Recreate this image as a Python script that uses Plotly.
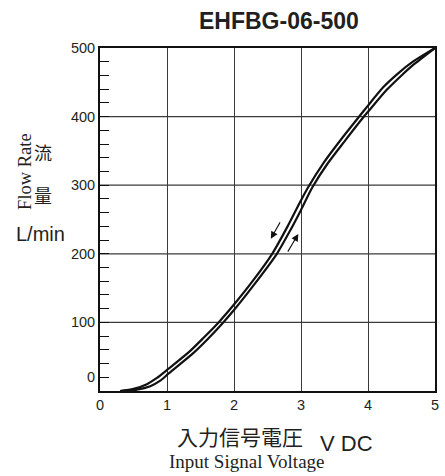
import plotly.graph_objects as go

# Hysteresis curves of flow rate versus input signal voltage
# Decreasing-signal branch (upper/left curve)
volt_down = [0.30, 0.50, 0.70, 0.85, 1.03, 1.33, 1.55, 1.77, 2.00, 2.30, 2.57,
             2.80, 3.00, 3.10, 3.34, 3.60, 3.86, 4.00, 4.23, 4.45, 4.67, 5.00]
flow_down = [0, 3, 10, 19, 33, 57, 78, 100, 126, 163, 200,
             240, 278, 296, 333, 367, 399, 416, 443, 463, 480, 500]

# Increasing-signal branch (lower/right curve)
volt_up = [0.30, 0.55, 0.75, 0.90, 1.03, 1.40, 1.62, 1.84, 2.00, 2.30, 2.64,
           2.85, 3.00, 3.17, 3.40, 3.65, 3.93, 4.00, 4.28, 4.50, 4.67, 5.00]
flow_up = [0, 2, 7, 15, 26, 56, 77, 100, 118, 155, 200,
           236, 264, 297, 332, 364, 399, 407, 439, 460, 475, 500]

# Axis ticks
x_tick_vals = [0, 1, 2, 3, 4, 5]
x_tick_text = ["0", "1", "2", "3", "4", "5"]
y_tick_vals = [20, 100, 200, 300, 400, 500]
y_tick_text = ["0", "100", "200", "300", "400", "500"]
y_minor_vals = list(range(20, 500, 20))
y_grid_vals = [100, 200, 300, 400]

# Direction arrows: (tail_x, tail_y, head_x, head_y)
arrow_down = (2.70, 248, 2.55, 222)
arrow_up = (2.79, 201, 2.96, 229)

SANS = "Liberation Sans, Arial, sans-serif"
SERIF = "Liberation Serif, Times New Roman, serif"
CJK = "Noto Sans CJK JP, sans-serif"
INK = "#231f20"

fig = go.Figure()
for xs, ys in ((volt_down, flow_down), (volt_up, flow_up)):
    fig.add_trace(go.Scatter(
        x=xs, y=ys, mode="lines",
        line=dict(color="#111111", width=2.2, shape="spline", smoothing=0.7),
        hoverinfo="skip", showlegend=False,
    ))

for gy in y_grid_vals:
    fig.add_shape(type="line", xref="paper", yref="y", x0=0, x1=1, y0=gy, y1=gy,
                  line=dict(color="#3a3a3a", width=1.3), layer="below")

for tx, ty, hx, hy in (arrow_down, arrow_up):
    fig.add_annotation(x=hx, y=hy, ax=tx, ay=ty, xref="x", yref="y",
                       axref="x", ayref="y", text="", showarrow=True,
                       arrowhead=2, arrowsize=1.3, arrowwidth=1.1,
                       arrowcolor="#111111")

W, H = 445, 476
L, R, T, B = 100, 6, 48, 85
pw, ph = W - L - R, H - T - B


def px(xp):
    return (xp - L) / pw


def py(yp):
    return (H - B - yp) / ph


labels = [
    ("<b>EHFBG-06-500</b>", 281, 21, dict(family=SANS, size=23, color=INK), 0),
    ("Flow Rate", 24, 171, dict(family=SERIF, size=18.5, color=INK), -90),
    ("流", 42, 152, dict(family=CJK, size=18, color=INK), 0),
    ("量", 42, 195, dict(family=CJK, size=18, color=INK), 0),
    ("L/min", 40, 234, dict(family=SANS, size=20, color=INK), 0),
    ("入力信号電圧", 242, 436, dict(family=CJK, size=21, color=INK), 0),
    ("Input Signal Voltage", 249, 461, dict(family=SERIF, size=19, color=INK), 0),
    ("V DC", 349, 443, dict(family=SANS, size=22, color=INK), 0),
]
for text, xp, yp, font, ang in labels:
    fig.add_annotation(x=px(xp), y=py(yp), xref="paper", yref="paper", text=text,
                       showarrow=False, font=font, textangle=ang,
                       xanchor="center", yanchor="middle")

fig.update_layout(
    width=W, height=H,
    margin=dict(l=L, r=R, t=T, b=B),
    paper_bgcolor="white", plot_bgcolor="white",
    xaxis=dict(
        range=[0, 5], tickvals=x_tick_vals, ticktext=x_tick_text,
        showgrid=True, gridcolor="#3a3a3a", gridwidth=1.3,
        zeroline=False, ticks="", showline=True, linecolor="#111111",
        linewidth=2, mirror=True,
        tickfont=dict(family=SANS, size=14.5, color=INK),
    ),
    yaxis=dict(
        range=[0, 500], tickvals=y_tick_vals, ticktext=y_tick_text,
        showgrid=False, zeroline=False, ticks="inside", ticklen=9,
        tickcolor="#111111", tickwidth=1.3,
        minor=dict(tickvals=y_minor_vals, ticks="inside", ticklen=9,
                   tickcolor="#111111", tickwidth=1.3, showgrid=False),
        showline=True, linecolor="#111111", linewidth=2, mirror=True,
        tickfont=dict(family=SANS, size=14.5, color=INK),
    ),
)

fig.write_html("out.html")
